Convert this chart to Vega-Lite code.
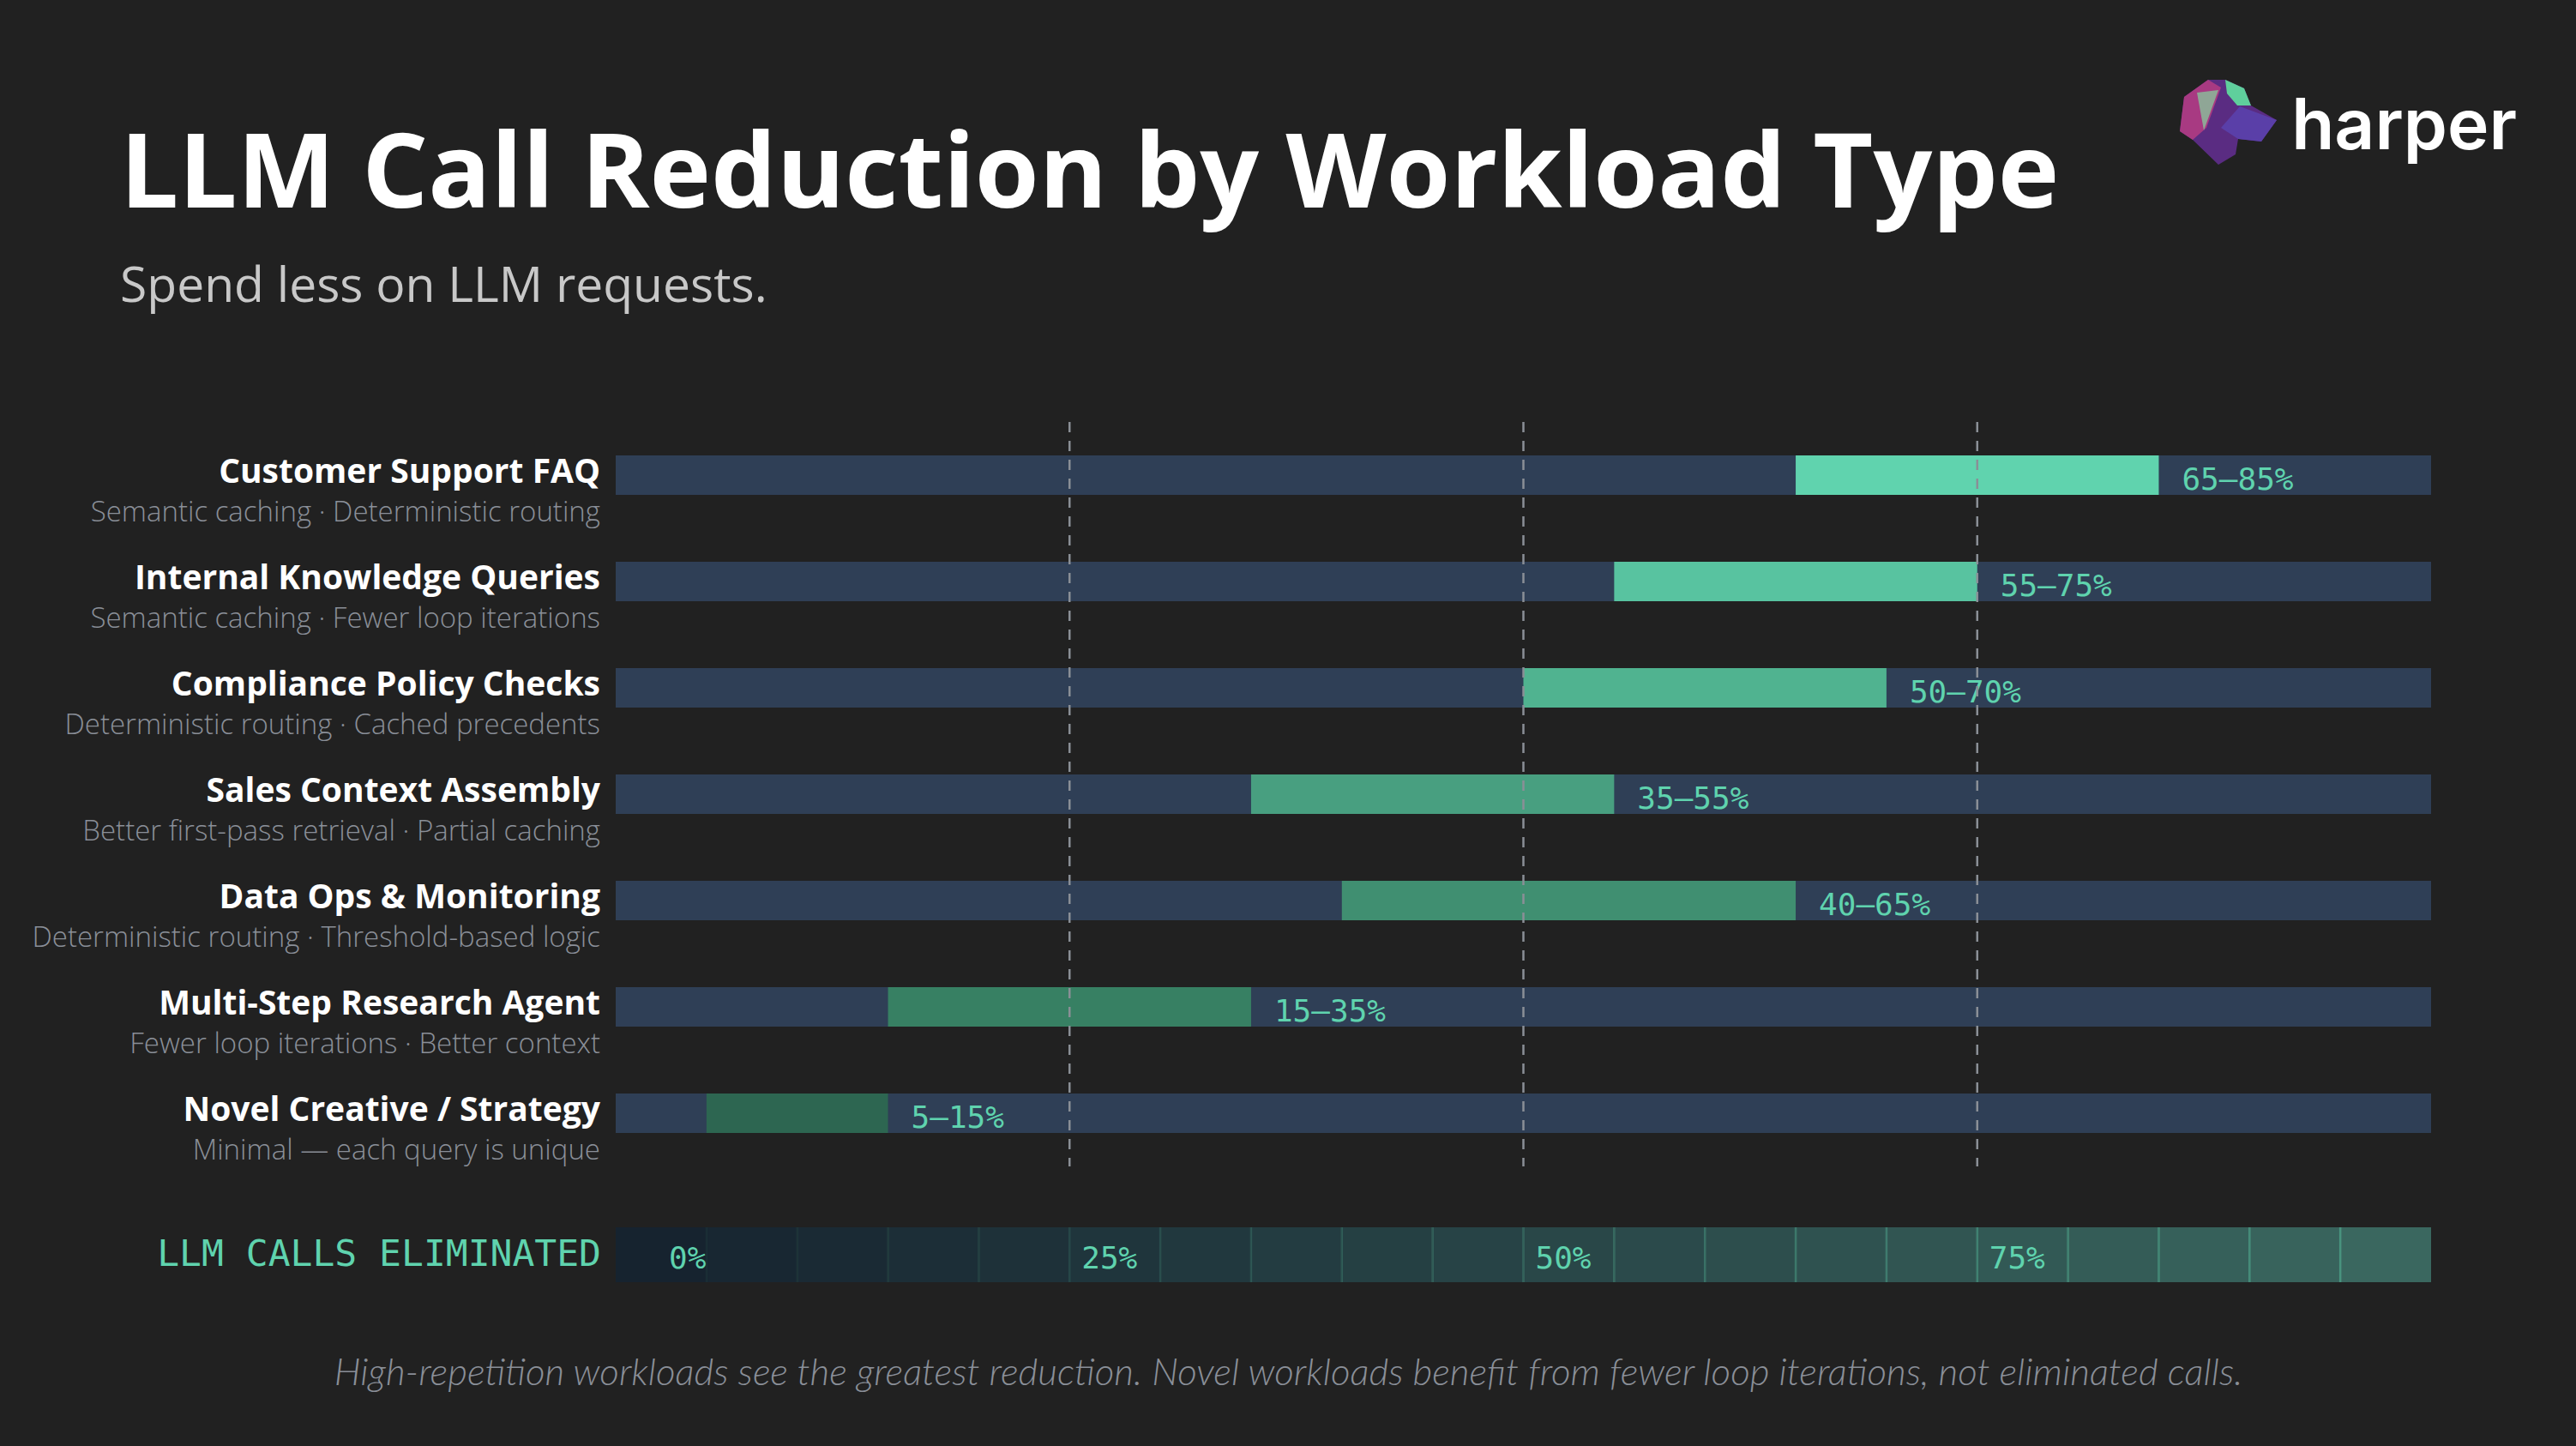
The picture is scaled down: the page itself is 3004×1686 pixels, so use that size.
{
  "$schema": "https://vega.github.io/schema/vega-lite/v6.json",
  "autosize": {"type": "none"},
  "padding": {"left": 718, "top": 492, "right": 2286, "bottom": 1194},
  "background": "#212121",
  "bounds": "flush",
  "spacing": 71,
  "config": {"view": {"stroke": null}, "font": "Lato"},
  "title": {
    "text": "High-repetition workloads see the greatest reduction. Novel workloads benefit from fewer loop iterations, not eliminated calls.",
    "orient": "bottom", "anchor": "middle", "frame": "group", "dx": -274, "offset": 84, "baseline": "top",
    "font": "Lato", "fontStyle": "italic", "fontWeight": 300, "fontSize": 44, "color": "#8a8f98"
  },
  "datasets": {
    "rows": [
      {"workload": "Customer Support FAQ", "detail": "Semantic caching · Deterministic routing", "low": 65, "high": 85, "label": "65–85%"},
      {"workload": "Internal Knowledge Queries", "detail": "Semantic caching · Fewer loop iterations", "low": 55, "high": 75, "label": "55–75%"},
      {"workload": "Compliance Policy Checks", "detail": "Deterministic routing · Cached precedents", "low": 50, "high": 70, "label": "50–70%"},
      {"workload": "Sales Context Assembly", "detail": "Better first-pass retrieval · Partial caching", "low": 35, "high": 55, "label": "35–55%"},
      {"workload": "Data Ops & Monitoring", "detail": "Deterministic routing · Threshold-based logic", "low": 40, "high": 65, "label": "40–65%"},
      {"workload": "Multi-Step Research Agent", "detail": "Fewer loop iterations · Better context", "low": 15, "high": 35, "label": "15–35%"},
      {"workload": "Novel Creative / Strategy", "detail": "Minimal — each query is unique", "low": 5, "high": 15, "label": "5–15%"}
    ],
    "cells": [
      {"start": 0, "end": 5}, {"start": 5, "end": 10}, {"start": 10, "end": 15}, {"start": 15, "end": 20},
      {"start": 20, "end": 25}, {"start": 25, "end": 30}, {"start": 30, "end": 35}, {"start": 35, "end": 40},
      {"start": 40, "end": 45}, {"start": 45, "end": 50}, {"start": 50, "end": 55}, {"start": 55, "end": 60},
      {"start": 60, "end": 65}, {"start": 65, "end": 70}, {"start": 70, "end": 75}, {"start": 75, "end": 80},
      {"start": 80, "end": 85}, {"start": 85, "end": 90}, {"start": 90, "end": 95}, {"start": 95, "end": 100}
    ],
    "ticks": [
      {"tick": 0, "label": "0%"}, {"tick": 25, "label": "25%"}, {"tick": 50, "label": "50%"}, {"tick": 75, "label": "75%"}
    ],
    "logo": [
      {"part": "base"}, {"part": "pink"}, {"part": "green"}, {"part": "blue"}, {"part": "light"}
    ]
  },
  "vconcat": [
    {
      "width": 2117,
      "height": 868,
      "title": {
        "text": "LLM Call Reduction by Workload Type",
        "subtitle": "Spend less on LLM requests.",
        "anchor": "start", "frame": "group", "dx": -578, "offset": 127,
        "font": "Open Sans", "fontSize": 121, "fontWeight": "bold", "color": "#ffffff",
        "subtitleFont": "Open Sans", "subtitleFontSize": 57, "subtitleFontWeight": "normal", "subtitleColor": "#c8c8c8", "subtitlePadding": 40
      },
      "data": {"name": "rows"},
      "layer": [
        {
          "mark": {"type": "bar", "color": "#2f3f56"},
          "encoding": {
            "y": {"field": "workload", "type": "nominal", "sort": null, "axis": null, "scale": {"paddingInner": 0.629, "paddingOuter": 0.3145}},
            "x": {"datum": 0, "type": "quantitative", "scale": {"domain": [0, 100]}, "axis": null},
            "x2": {"datum": 100}
          }
        },
        {
          "mark": {"type": "bar"},
          "encoding": {
            "y": {"field": "workload", "type": "nominal", "sort": null},
            "x": {"field": "low", "type": "quantitative"},
            "x2": {"field": "high"},
            "color": {"field": "workload", "type": "nominal", "sort": null, "legend": null,
              "scale": {"range": ["#60d3ae", "#58c3a0", "#50b390", "#489f80", "#408f71", "#378063", "#2d6651"]}}
          }
        },
        {
          "mark": {"type": "text", "align": "left", "baseline": "alphabetic", "dx": 27, "dy": 17, "font": "DejaVu Sans Mono", "fontSize": 36, "color": "#5fd3ae"},
          "encoding": {
            "y": {"field": "workload", "type": "nominal", "sort": null},
            "x": {"field": "high", "type": "quantitative"},
            "text": {"field": "label"}
          }
        },
        {
          "mark": {"type": "text", "align": "right", "baseline": "alphabetic", "dx": -18, "dy": 9, "font": "Open Sans", "fontWeight": "bold", "fontSize": 39, "color": "#ffffff"},
          "encoding": {
            "y": {"field": "workload", "type": "nominal", "sort": null},
            "x": {"datum": 0, "type": "quantitative"},
            "text": {"field": "workload"}
          }
        },
        {
          "mark": {"type": "text", "align": "right", "baseline": "alphabetic", "dx": -18, "dy": 54, "font": "Open Sans", "fontWeight": 300, "fontSize": 33, "color": "#8a8f98"},
          "encoding": {
            "y": {"field": "workload", "type": "nominal", "sort": null},
            "x": {"datum": 0, "type": "quantitative"},
            "text": {"field": "detail"}
          }
        },
        {
          "data": {"values": [{"t": 25}, {"t": 50}, {"t": 75}]},
          "mark": {"type": "rule", "color": "#8a8f96", "strokeWidth": 2.5, "strokeDash": [12, 10]},
          "encoding": {"x": {"field": "t", "type": "quantitative"}}
        }
      ]
    },
    {
      "width": 2117,
      "height": 64,
      "title": {"text": "harper", "orient": "bottom", "anchor": "end", "dx": 100, "offset": -1322, "baseline": "alphabetic", "font": "Inter", "fontSize": 82, "fontWeight": 600, "color": "#ffffff"},
      "resolve": {"scale": {"color": "independent", "shape": "independent", "opacity": "independent"}},
      "layer": [
        {
          "data": {"name": "cells"},
          "mark": {"type": "rect"},
          "encoding": {
            "x": {"field": "start", "type": "quantitative", "scale": {"domain": [0, 100]}, "axis": null},
            "x2": {"field": "end"},
            "color": {"field": "start", "type": "quantitative", "legend": null, "scale": {"range": ["#16232f", "#3a675f"], "interpolate": "rgb"}}
          }
        },
        {
          "data": {"name": "cells"},
          "transform": [{"filter": "datum.start > 0"}],
          "mark": {"type": "rule", "color": "#5fd3ae", "strokeWidth": 2.5},
          "encoding": {
            "x": {"field": "start", "type": "quantitative"},
            "opacity": {"field": "start", "type": "quantitative", "legend": null, "scale": {"range": [0.05, 0.45]}}
          }
        },
        {
          "data": {"name": "ticks"},
          "transform": [{"filter": "datum.tick == 0"}],
          "mark": {"type": "text", "align": "left", "baseline": "alphabetic", "dx": 62, "dy": 16, "font": "DejaVu Sans Mono", "fontSize": 36, "color": "#5fd3ae"},
          "encoding": {"x": {"field": "tick", "type": "quantitative"}, "text": {"field": "label"}}
        },
        {
          "data": {"name": "ticks"},
          "transform": [{"filter": "datum.tick > 0"}],
          "mark": {"type": "text", "align": "left", "baseline": "alphabetic", "dx": 14, "dy": 16, "font": "DejaVu Sans Mono", "fontSize": 36, "color": "#5fd3ae"},
          "encoding": {"x": {"field": "tick", "type": "quantitative"}, "text": {"field": "label"}}
        },
        {
          "data": {"values": [{"lab": "LLM CALLS ELIMINATED"}]},
          "mark": {"type": "text", "align": "right", "baseline": "alphabetic", "dx": -17, "dy": 13, "font": "DejaVu Sans Mono", "fontSize": 43, "color": "#5fd3ae"},
          "encoding": {"x": {"datum": 0, "type": "quantitative"}, "text": {"field": "lab"}}
        },
        {
          "data": {"name": "logo"},
          "mark": {"type": "point", "filled": true, "size": 4, "opacity": 1, "strokeWidth": 0},
          "encoding": {
            "x": {"datum": 100, "type": "quantitative"},
            "shape": {"field": "part", "type": "nominal", "legend": null,
              "scale": {"domain": ["base", "pink", "green", "blue", "light"],
                "range": [
                  "M-288,-1350L-260,-1370L-240,-1370L-218,-1360L-210,-1340L-180,-1323L-198,-1298L-225,-1301L-228,-1283L-248,-1271L-278,-1300L-293,-1310Z",
                  "M-288,-1350L-260,-1370L-245,-1361L-262,-1314L-278,-1300L-293,-1310Z",
                  "M-240,-1370L-218,-1360L-210,-1340L-226,-1340L-238,-1354Z",
                  "M-223,-1339L-180,-1323L-198,-1298L-225,-1301L-245,-1314Z",
                  "M-273,-1355L-248,-1358L-265,-1311Z"
                ]}},
            "color": {"field": "part", "type": "nominal", "legend": null,
              "scale": {"domain": ["base", "pink", "green", "blue", "light"], "range": ["#5a2c82", "#a83a82", "#5fcf9c", "#5a3fa8", "#8fa696"]}}
          }
        }
      ]
    }
  ]
}
